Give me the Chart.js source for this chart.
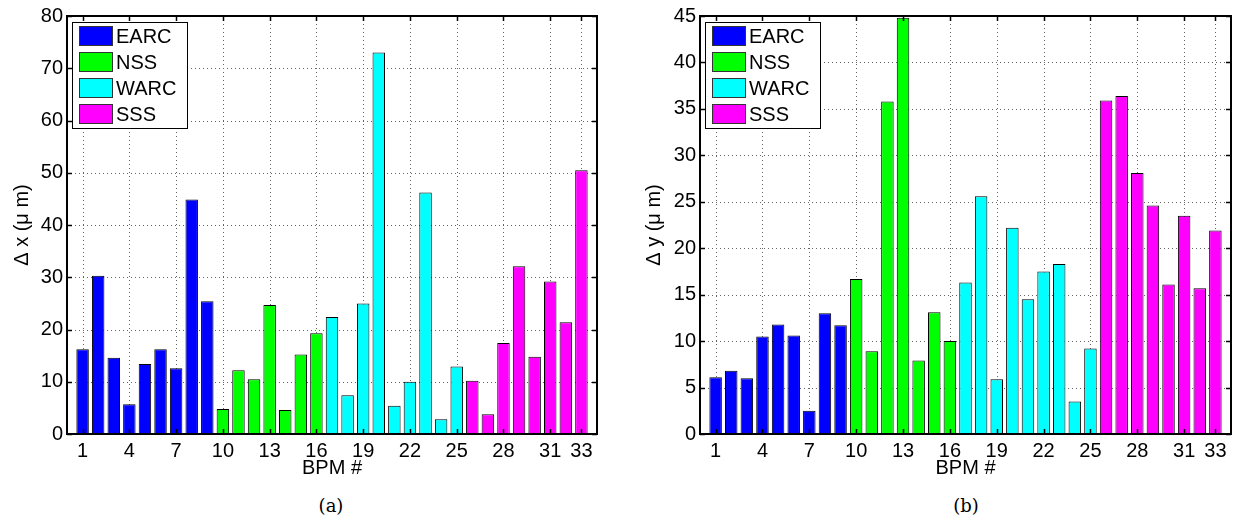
<!DOCTYPE html>
<html>
<head>
<meta charset="utf-8">
<script src="https://cdn.jsdelivr.net/npm/chart.js@4"></script>
<style>
  body { margin: 0; background: #fff; width: 1234px; height: 527px; position: relative; overflow: hidden; }
  canvas { position: absolute; top: 0; }
  .cap { position: absolute; top: 495px; font: 18px "DejaVu Serif", "Liberation Serif", serif; color: #000; transform: translateX(-50%); }
</style>
</head>
<body>
<canvas id="chartA" width="610" height="480" style="left:0"></canvas>
<canvas id="chartB" width="604" height="480" style="left:630px"></canvas>
<div class="cap" style="left:331px">(a)</div>
<div class="cap" style="left:966px">(b)</div>
<script>
// BPM numbers and section membership
const bpm = [1, 2, 3, 4, 5, 6, 7, 8, 9, 10, 11, 12, 13, 14, 15, 16, 17, 18, 19, 20, 21, 22, 23, 24, 25, 26, 27, 28, 29, 30, 31, 32, 33];
const sections = ['EARC', 'NSS', 'WARC', 'SSS'];
const sectionFirstBpm = [1, 10, 17, 26];
const sectionColors = ['#0000ff', '#00ff00', '#00ffff', '#ff00ff'];

// measured offsets (um)
const dx = [16.2, 30.3, 14.6, 5.7, 13.4, 16.2, 12.6, 44.9, 25.4,
            4.8, 12.2, 10.5, 24.7, 4.6, 15.2, 19.3,
            22.4, 7.4, 25.0, 73.0, 5.4, 10.0, 46.2, 2.8, 12.9,
            10.2, 3.8, 17.4, 32.1, 14.8, 29.2, 21.4, 50.5];
const dy = [6.1, 6.8, 6.0, 10.5, 11.8, 10.6, 2.5, 13.0, 11.7,
            16.7, 8.9, 35.8, 44.8, 7.9, 13.1, 10.0,
            16.3, 25.6, 5.9, 22.2, 14.5, 17.5, 18.3, 3.5, 9.2,
            35.9, 36.4, 28.1, 24.6, 16.1, 23.5, 15.7, 21.9];

const xTicks = [1, 4, 7, 10, 13, 16, 19, 22, 25, 28, 31, 33];
const yTicksA = [0, 10, 20, 30, 40, 50, 60, 70, 80];
const yTicksB = [0, 5, 10, 15, 20, 25, 30, 35, 40, 45];

const FONT = '"Liberation Sans", Arial, Helvetica, sans-serif';

function sectionOf(n) {
    let s = 0;
    sectionFirstBpm.forEach((first, i) => { if (n >= first) s = i; });
    return s;
}

function buildDatasets(values) {
    return sections.map((name, s) => ({
        label: name,
        data: bpm.filter(n => sectionOf(n) === s).map(n => ({ x: n, y: values[n - 1] })),
        backgroundColor: sectionColors[s],
        borderColor: '#000',
        borderWidth: 1,
        borderSkipped: false,
        grouped: false,
        barPercentage: 0.8,
        categoryPercentage: 1.0
    }));
}

// dotted grid behind the bars
const dottedGrid = {
    id: 'dottedGrid',
    beforeDatasetsDraw(chart) {
        const ctx = chart.ctx;
        const a = chart.chartArea;
        const xs = chart.scales.x, ys = chart.scales.y;
        ctx.save();
        ctx.strokeStyle = '#666';
        ctx.lineWidth = 1;
        ctx.setLineDash([1, 3]);
        ctx.beginPath();
        xs.ticks.forEach(t => {
            const px = Math.round(xs.getPixelForValue(t.value)) + 0.5;
            ctx.moveTo(px, a.top); ctx.lineTo(px, a.bottom);
        });
        ys.ticks.forEach(t => {
            const py = Math.round(ys.getPixelForValue(t.value)) + 0.5;
            ctx.moveTo(a.left, py); ctx.lineTo(a.right, py);
        });
        ctx.stroke();
        ctx.restore();
    }
};

// matlab style box, inward ticks and legend
const matlabFrame = {
    id: 'matlabFrame',
    afterDraw(chart) {
        const ctx = chart.ctx;
        const a = chart.chartArea;
        const xs = chart.scales.x, ys = chart.scales.y;
        const tl = 5;
        ctx.save();
        ctx.strokeStyle = '#000';
        ctx.lineWidth = 1.5;
        ctx.beginPath();
        xs.ticks.forEach(t => {
            const px = Math.round(xs.getPixelForValue(t.value)) + 0.5;
            ctx.moveTo(px, a.bottom); ctx.lineTo(px, a.bottom - tl);
            ctx.moveTo(px, a.top); ctx.lineTo(px, a.top + tl);
        });
        ys.ticks.forEach(t => {
            const py = Math.round(ys.getPixelForValue(t.value)) + 0.5;
            ctx.moveTo(a.left, py); ctx.lineTo(a.left + tl, py);
            ctx.moveTo(a.right, py); ctx.lineTo(a.right - tl, py);
        });
        ctx.stroke();
        ctx.lineWidth = 2;
        ctx.strokeRect(a.left, a.top, a.right - a.left, a.bottom - a.top);

        // legend
        const lx = a.left + 5, ly = a.top + 6, lw = 115, rowH = 26;
        const sets = chart.data.datasets;
        ctx.fillStyle = '#fff';
        ctx.fillRect(lx, ly, lw, rowH * sets.length + 2);
        ctx.lineWidth = 1;
        ctx.strokeRect(lx + 0.5, ly + 0.5, lw, rowH * sets.length + 2);
        ctx.font = '20px ' + FONT;
        ctx.textBaseline = 'middle';
        sets.forEach((d, i) => {
            const cy = ly + 14 + i * rowH;
            ctx.fillStyle = d.backgroundColor;
            ctx.fillRect(lx + 7, cy - 10, 34, 20);
            ctx.strokeStyle = '#333';
            ctx.strokeRect(lx + 7.5, cy - 9.5, 33, 19);
            ctx.fillStyle = '#000';
            ctx.fillText(d.label, lx + 44, cy + 1);
        });
        ctx.restore();
    }
};

function makeChart(id, values, yMax, yTicks, yTitle, yWidth, titlePad, padRight) {
    return new Chart(document.getElementById(id).getContext('2d'), {
        type: 'bar',
        data: { datasets: buildDatasets(values) },
        options: {
            responsive: false,
            animation: false,
            layout: { padding: { top: 14, right: padRight, bottom: 0, left: 0 } },
            plugins: { legend: { display: false }, tooltip: { enabled: false } },
            scales: {
                x: {
                    type: 'linear',
                    offset: false,
                    min: 0,
                    max: 34,
                    afterBuildTicks: s => { s.ticks = xTicks.map(v => ({ value: v })); },
                    afterFit: s => { s.height = 46; },
                    ticks: { autoSkip: false, maxRotation: 0, color: '#000', padding: 5, font: { family: FONT, size: 20 } },
                    grid: { display: false, drawTicks: false },
                    border: { display: false },
                    title: { display: true, text: 'BPM #', color: '#000', padding: { top: 0, bottom: 0 }, font: { family: FONT, size: 20 } }
                },
                y: {
                    min: 0,
                    max: yMax,
                    afterBuildTicks: s => { s.ticks = yTicks.map(v => ({ value: v })); },
                    afterFit: s => { s.width = yWidth; },
                    ticks: { color: '#000', padding: 4, font: { family: FONT, size: 20 } },
                    grid: { display: false, drawTicks: false },
                    border: { display: false },
                    title: { display: true, text: yTitle, color: '#000', padding: { top: titlePad, bottom: 0 }, font: { family: FONT, size: 20 } }
                }
            }
        },
        plugins: [dottedGrid, matlabFrame]
    });
}

makeChart('chartA', dx, 80, yTicksA, 'Δ x (μ m)', 67, 10, 13);
makeChart('chartB', dy, 45, yTicksB, 'Δ y (μ m)', 70, 12, 3);
</script>
</body>
</html>
